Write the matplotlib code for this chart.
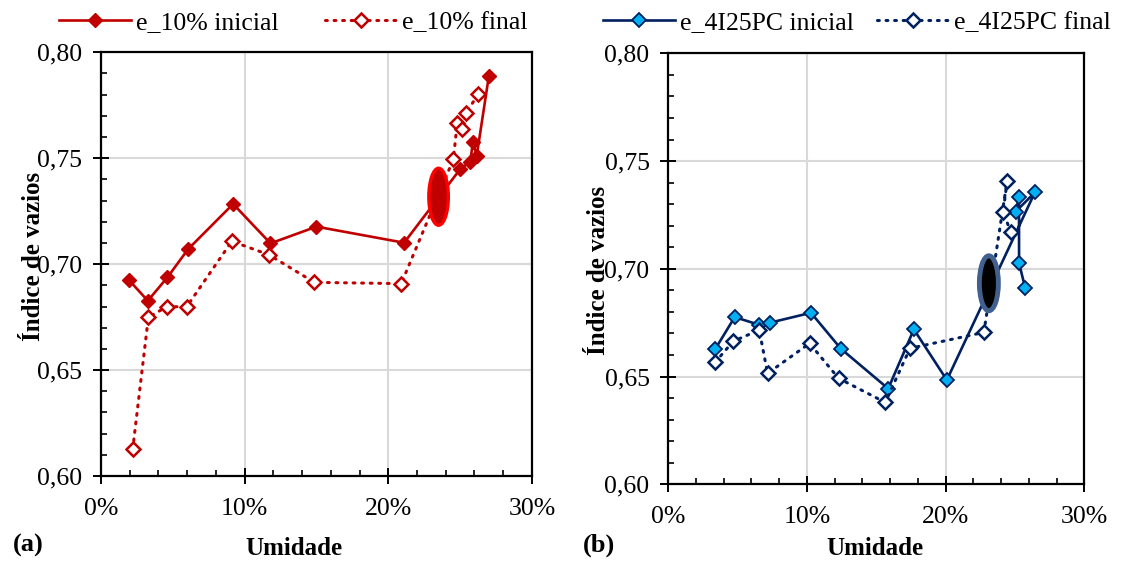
import matplotlib
matplotlib.use("Agg")
import matplotlib.pyplot as plt
from matplotlib.patches import Ellipse
from matplotlib.ticker import MultipleLocator, PercentFormatter, FuncFormatter

plt.rcParams['font.family'] = ['Liberation Serif', 'DejaVu Serif']

# (a) e_10%
a_ini_x = [0.0195, 0.0326, 0.0463, 0.0607, 0.092, 0.118, 0.150, 0.211, 0.250, 0.257, 0.259, 0.2615, 0.270]
a_ini_y = [0.6925, 0.6827, 0.6938, 0.7071, 0.7284, 0.7098, 0.7177, 0.7101, 0.7448, 0.7484, 0.7578, 0.7510, 0.7888]
a_fin_x = [0.0221, 0.033, 0.0458, 0.0597, 0.0911, 0.117, 0.1485, 0.209, 0.2453, 0.248, 0.2515, 0.2543, 0.2627]
a_fin_y = [0.6126, 0.6749, 0.6799, 0.6799, 0.7108, 0.7044, 0.6914, 0.6908, 0.7495, 0.7668, 0.7636, 0.7715, 0.7803]

# (b) e_4I25PC
b_ini_x = [0.0337, 0.0479, 0.0656, 0.0733, 0.1029, 0.1245, 0.1586, 0.1771, 0.2009, 0.2644, 0.2505, 0.2529, 0.2530, 0.2574]
b_ini_y = [0.6626, 0.6776, 0.6740, 0.6750, 0.6796, 0.6629, 0.6444, 0.6719, 0.6484, 0.7355, 0.7265, 0.7332, 0.7026, 0.6911]
b_fin_x = [0.0337, 0.0469, 0.0656, 0.0716, 0.1019, 0.1228, 0.1565, 0.1743, 0.2276, 0.2444, 0.2415, 0.2469]
b_fin_y = [0.6566, 0.6664, 0.6716, 0.6515, 0.6654, 0.6492, 0.6380, 0.6631, 0.6705, 0.7409, 0.7265, 0.7172]

labels_a = ["e_10% inicial", "e_10% final"]
labels_b = ["e_4I25PC inicial", "e_4I25PC final"]

red = "#C00000"
navy = "#002060"
light_blue = "#00B0F0"

fig = plt.figure(figsize=(11.23, 5.65), dpi=100)
ax1 = fig.add_axes([0.0899, 0.1575, 0.3838, 0.750])
ax2 = fig.add_axes([0.5951, 0.1428, 0.3704, 0.7628])

comma = FuncFormatter(lambda v, p: f"{v:.2f}".replace(".", ","))


def style_axes(ax):
    ax.set_xlim(0, 0.30)
    ax.set_ylim(0.60, 0.80)
    ax.xaxis.set_major_locator(MultipleLocator(0.10))
    ax.xaxis.set_minor_locator(MultipleLocator(0.02))
    ax.yaxis.set_major_locator(MultipleLocator(0.05))
    ax.yaxis.set_minor_locator(MultipleLocator(0.01))
    ax.xaxis.set_major_formatter(PercentFormatter(1, decimals=0))
    ax.yaxis.set_major_formatter(comma)
    ax.grid(True, which='major', color='#D9D9D9', lw=1.5)
    ax.set_axisbelow(True)
    for s in ax.spines.values():
        s.set_linewidth(1.6)
        s.set_color('black')
    ax.tick_params(which='major', direction='inout', length=11, width=1.4,
                   labelsize=18.5, pad=8)
    ax.tick_params(which='minor', direction='in', length=4, width=1.2)
    ax.tick_params(axis='x', which='major', pad=10)


style_axes(ax1)
style_axes(ax2)

# (a)
ax1.plot(a_ini_x, a_ini_y, '-', color=red, lw=1.9, marker='D', ms=7.5,
         mfc=red, mec=red, label=labels_a[0], zorder=3)
ax1.plot(a_fin_x, a_fin_y, color=red, lw=2.2, ls=(0, (0.6, 2.2)),
         dash_capstyle='round', marker='D', ms=7, mfc='white', mec=red,
         mew=1.8, label=labels_a[1], zorder=4)
ax1.add_patch(Ellipse((0.235, 0.7318), 0.0136, 0.0269, facecolor=red,
                      edgecolor='#FF0000', lw=2.4, zorder=5))

# (b)
ax2.plot(b_ini_x, b_ini_y, '-', color=navy, lw=1.9, marker='D', ms=7.5,
         mfc=light_blue, mec=navy, mew=1.3, label=labels_b[0], zorder=3)
ax2.plot(b_fin_x, b_fin_y, color=navy, lw=2.2, ls=(0, (0.6, 2.2)),
         dash_capstyle='round', marker='D', ms=7, mfc='white', mec=navy,
         mew=1.8, label=labels_b[1], zorder=4)
ax2.add_patch(Ellipse((0.2312, 0.6933), 0.0137, 0.0255, facecolor='black',
                      edgecolor='#41608E', lw=3.5, zorder=5))

ax1.set_ylabel("Índice de vazios", fontsize=18, fontweight='bold')
ax2.set_ylabel("Índice de vazios", fontsize=18, fontweight='bold')
ax1.yaxis.set_label_coords(-0.130, 0.519)
ax2.yaxis.set_label_coords(-0.140, 0.497)
ax1.set_xlabel("Umidade", fontsize=18, fontweight='bold')
ax2.set_xlabel("Umidade", fontsize=18, fontweight='bold')
ax1.xaxis.set_label_coords(0.448, -0.144)
ax2.xaxis.set_label_coords(0.4976, -0.122)

fig.legend(*ax1.get_legend_handles_labels(), loc='center', ncol=2,
           bbox_to_anchor=(293 / 1123, 0.961), frameon=False, fontsize=18.5,
           handlelength=2.8, handletextpad=0.2, columnspacing=1.8,
           borderaxespad=0, borderpad=0)
fig.legend(*ax2.get_legend_handles_labels(), loc='center', ncol=2,
           bbox_to_anchor=(857 / 1123, 0.961), frameon=False, fontsize=18.5,
           handlelength=2.8, handletextpad=0.2, columnspacing=0.9,
           borderaxespad=0, borderpad=0)

fig.text(0.0116, 0.035, "(a)", fontsize=19, fontweight='bold', va='center')
fig.text(0.519, 0.035, "(b)", fontsize=19, fontweight='bold', va='center')

fig.savefig("out.png", dpi=100)
